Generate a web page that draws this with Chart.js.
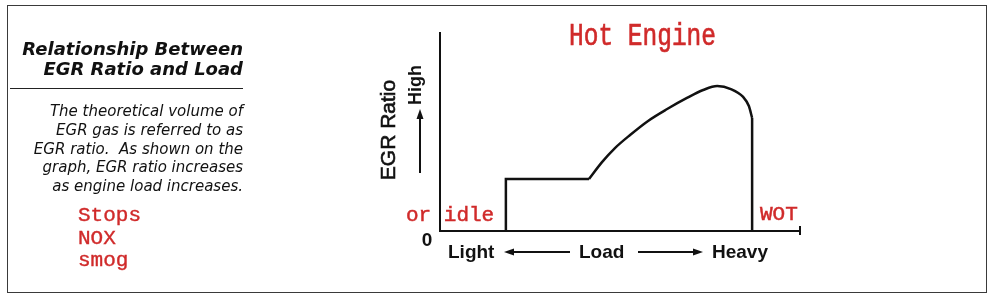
<!DOCTYPE html>
<html>
<head>
<meta charset="utf-8">
<script src="https://cdn.jsdelivr.net/npm/chart.js@4.4.1/dist/chart.umd.min.js"></script>
<style>
  html, body { margin: 0; padding: 0; background: #fff; }
  #wrap { position: relative; width: 993px; height: 300px; overflow: hidden; }
  #frame { position: absolute; left: 7px; top: 5px; width: 978px; height: 286px; border: 1.5px solid #3a3a3a; }
  #chart { position: absolute; left: 0; top: 0; }
  .side { position: absolute; left: 0; width: 243px; text-align: right; color: #111; }
  #heading { top: 39px; font: bold oblique 18px "DejaVu Sans"; line-height: 20px; }
  #rule { position: absolute; left: 10px; top: 88px; width: 233px; height: 0; border-top: 1.5px solid #222; }
  #blurb { top: 102px; font: oblique 15px "DejaVu Sans"; line-height: 18.8px; }
  #effects { position: absolute; left: 78px; top: 205px; font: 21px "Liberation Mono"; line-height: 22.5px; color: #d02a2a; -webkit-text-stroke: 0.4px #d02a2a; }
</style>
</head>
<body>
<div id="wrap">
  <canvas id="chart" width="993" height="300"></canvas>
  <div id="frame"></div>
  <div class="side" id="heading">Relationship Between<br>EGR Ratio and Load</div>
  <div id="rule"></div>
  <div class="side" id="blurb">The theoretical volume of<br>EGR gas is referred to as<br>EGR ratio.&nbsp; As shown on the<br>graph, EGR ratio increases<br>as engine load increases.</div>
  <div id="effects">Stops<br>NOX<br>smog</div>
</div>
<script>
// load axis 0..100 (light -> heavy), EGR ratio 0..100 (0 -> high)
const stepLoad = [18.3, 18.3, 41.4];
const stepRatio = [0, 26.3, 26.3];

const curveLoad = [41.4, 45.0, 48.6, 52.8, 57.8, 63.1, 68.6, 73.1, 77.0, 80.8, 84.2, 85.8, 86.7];
const curveRatio = [26.3, 34.8, 41.9, 48.5, 55.6, 61.6, 67.2, 71.2, 73.2, 71.7, 67.7, 63.1, 57.1];

const dropLoad = [86.7, 86.7];
const dropRatio = [57.1, 0];

const title = "Hot Engine";
const idleLabel = "or idle";
const wotLabel = "WOT";
const yLabel = "EGR Ratio";
const yHigh = "High";
const zeroLabel = "0";
const xLabels = ["Light", "Load", "Heavy"];

const red = "#d02a2a";
const ink = "#111";

const toPoints = (xs, ys) => xs.map((x, i) => ({ x: x, y: ys[i] }));

const arrow = (ctx, x1, y1, x2, y2) => {
  const a = Math.atan2(y2 - y1, x2 - x1);
  ctx.beginPath();
  ctx.moveTo(x1, y1);
  ctx.lineTo(x2 - Math.cos(a) * 6, y2 - Math.sin(a) * 6);
  ctx.stroke();
  ctx.beginPath();
  ctx.moveTo(x2, y2);
  ctx.lineTo(x2 - Math.cos(a) * 10 - Math.sin(a) * 3.5, y2 - Math.sin(a) * 10 + Math.cos(a) * 3.5);
  ctx.lineTo(x2 - Math.cos(a) * 10 + Math.sin(a) * 3.5, y2 - Math.sin(a) * 10 - Math.cos(a) * 3.5);
  ctx.closePath();
  ctx.fill();
}

const labelsPlugin = {
  id: "labels",
  afterDraw(chart) {
    const ctx = chart.ctx;
    const area = chart.chartArea;
    const xs = chart.scales.x;
    ctx.save();

    // end cap on the load axis
    ctx.strokeStyle = ink;
    ctx.lineWidth = 2;
    const xEnd = xs.getPixelForValue(100);
    ctx.beginPath();
    ctx.moveTo(xEnd, area.bottom - 5);
    ctx.lineTo(xEnd, area.bottom + 4);
    ctx.stroke();

    // red notes
    ctx.fillStyle = red;
    ctx.strokeStyle = red;
    ctx.textBaseline = "alphabetic";
    ctx.textAlign = "left";
    ctx.save();
    ctx.translate(569, 45);
    ctx.scale(1, 1.25);
    ctx.font = "24.5px 'Liberation Mono'";
    ctx.lineWidth = 0.5;
    ctx.fillText(title, 0, 0);
    ctx.strokeText(title, 0, 0);
    ctx.restore();
    ctx.font = "21px 'Liberation Mono'";
    ctx.lineWidth = 0.5;
    ctx.fillText(idleLabel, area.left - 34, area.bottom - 10);
    ctx.strokeText(idleLabel, area.left - 34, area.bottom - 10);
    ctx.fillText(wotLabel, 760, area.bottom - 11);
    ctx.strokeText(wotLabel, 760, area.bottom - 11);

    // y axis labels
    ctx.fillStyle = ink;
    ctx.strokeStyle = ink;
    ctx.save();
    ctx.translate(area.left - 45, 130);
    ctx.rotate(-Math.PI / 2);
    ctx.textAlign = "center";
    ctx.font = "21px 'Liberation Sans'";
    ctx.lineWidth = 0.6;
    ctx.fillText(yLabel, 0, 0);
    ctx.strokeText(yLabel, 0, 0);
    ctx.restore();
    ctx.save();
    ctx.translate(area.left - 19, 85);
    ctx.rotate(-Math.PI / 2);
    ctx.textAlign = "center";
    ctx.font = "bold 18px 'Liberation Sans'";
    ctx.fillText(yHigh, 0, 0);
    ctx.restore();
    ctx.lineWidth = 2;
    arrow(ctx, area.left - 20, 173, area.left - 20, 109);

    // x axis labels
    ctx.font = "bold 19px 'Liberation Sans'";
    ctx.textAlign = "center";
    ctx.fillText(zeroLabel, area.left - 13, area.bottom + 15);
    ctx.textAlign = "left";
    ctx.fillText(xLabels[0], 448, area.bottom + 27);
    ctx.fillText(xLabels[1], 579, area.bottom + 27);
    ctx.fillText(xLabels[2], 712, area.bottom + 27);
    arrow(ctx, 570, area.bottom + 21, 504, area.bottom + 21);
    arrow(ctx, 638, area.bottom + 21, 703, area.bottom + 21);

    ctx.restore();
  }
};

const lineStyle = {
  showLine: true,
  borderColor: ink,
  borderWidth: 2.5,
  pointRadius: 0,
  fill: false,
  clip: false,
};

new Chart(document.getElementById("chart").getContext("2d"), {
  type: "scatter",
  data: {
    datasets: [
      { ...lineStyle, data: toPoints(stepLoad, stepRatio), tension: 0 },
      { ...lineStyle, data: toPoints(curveLoad, curveRatio), cubicInterpolationMode: "monotone" },
      { ...lineStyle, data: toPoints(dropLoad, dropRatio), tension: 0 },
    ],
  },
  options: {
    responsive: false,
    animation: false,
    events: [],
    layout: { padding: { left: 440, right: 193, top: 33, bottom: 69 } },
    plugins: {
      legend: { display: false },
      tooltip: { enabled: false },
    },
    scales: {
      x: {
        type: "linear",
        min: 0,
        max: 100,
        grid: { display: false, drawTicks: false },
        ticks: { display: false },
        border: { display: true, color: ink, width: 2 },
      },
      y: {
        type: "linear",
        min: 0,
        max: 100,
        grid: { display: false, drawTicks: false },
        ticks: { display: false },
        border: { display: true, color: ink, width: 2 },
      },
    },
  },
  plugins: [labelsPlugin],
});
</script>
</body>
</html>
